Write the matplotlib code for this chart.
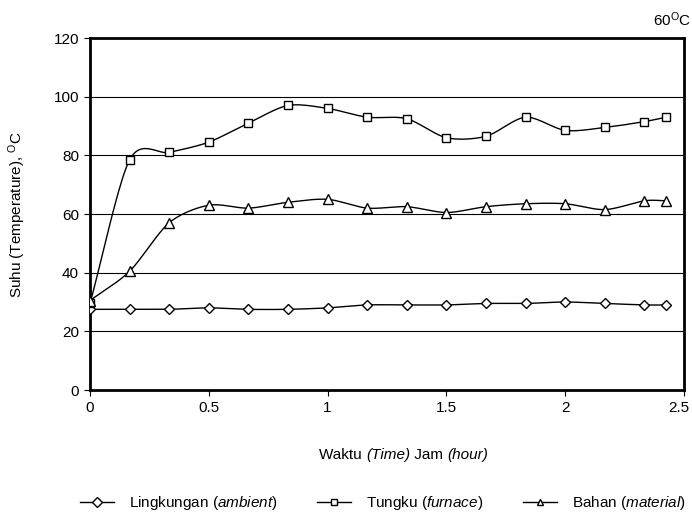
import numpy as np
import matplotlib
matplotlib.use("Agg")
import matplotlib.pyplot as plt
import matplotlib.transforms as mtransforms
from matplotlib.lines import Line2D
from matplotlib.offsetbox import TextArea, HPacker, AnchoredOffsetbox

plt.rcParams['font.family'] = ['Liberation Sans', 'DejaVu Sans']
plt.rcParams['mathtext.fontset'] = 'custom'
plt.rcParams['mathtext.rm'] = 'Liberation Sans'
plt.rcParams['mathtext.it'] = 'Liberation Sans:italic'

time_h = [0, 0.167, 0.333, 0.5, 0.667, 0.833, 1.0, 1.167, 1.333, 1.5, 1.667, 1.833, 2.0, 2.167, 2.333, 2.425]
ambient = [27.5, 27.5, 27.5, 28, 27.5, 27.5, 28, 29, 29, 29, 29.5, 29.5, 30, 29.5, 29, 29]
furnace = [29.5, 78.5, 81, 84.5, 91, 97, 96, 93, 92.5, 86, 86.5, 93, 88.5, 89.5, 91.5, 93]
material = [30.5, 40.5, 57, 63, 62, 64, 65, 62, 62.5, 60.5, 62.5, 63.5, 63.5, 61.5, 64.5, 64.5]

labels = [r'Lingkungan ($\it{ambient}$)', r'Tungku ($\it{furnace}$)', r'Bahan ($\it{material}$)']
markers = ['D', 's', '^']


def smooth(x, y, n=20, k=7.0):
    x = np.asarray(x, float); y = np.asarray(y, float)
    P = np.column_stack([x, y])
    ext = np.vstack([P[0] - (P[1] - P[0]), P, P[-1] + (P[-1] - P[-2])])
    out = []
    t = np.linspace(0, 1, n, endpoint=False)
    for i in range(1, len(ext) - 2):
        p0, p1, p2, p3 = ext[i - 1], ext[i], ext[i + 1], ext[i + 2]
        c1 = p1 + (p2 - p0) / k
        c2 = p2 - (p3 - p1) / k
        b = ((1 - t) ** 3)[:, None] * p1 + (3 * (1 - t) ** 2 * t)[:, None] * c1 + \
            (3 * (1 - t) * t ** 2)[:, None] * c2 + (t ** 3)[:, None] * p2
        out.append(b)
    out.append(P[-1][None, :])
    s = np.vstack(out)
    return s[:, 0], s[:, 1]


fig = plt.figure(figsize=(6.92, 5.16), dpi=100)
ax = fig.add_axes([90 / 692, 1 - 390 / 516, 594 / 692, 352 / 516])

for yv in [20, 40, 60, 80, 100]:
    ax.axhline(yv, color='black', lw=0.8, zorder=1)

series = [ambient, furnace, material]
msizes = [5, 6, 6.5]
for vals, m, ms in zip(series, markers, msizes):
    sx, sy = smooth(time_h, vals)
    ax.plot(sx, sy, color='black', lw=1.0, zorder=2)
    ax.plot(time_h, vals, linestyle='none', marker=m, markersize=ms,
            markerfacecolor='white', markeredgecolor='black', markeredgewidth=1.0, zorder=3)

ax.set_xlim(0, 2.5)
ax.set_ylim(0, 120)
ax.set_xticks([0, 0.5, 1, 1.5, 2, 2.5])
ax.set_xticklabels(['0', '0.5', '1', '1.5', '2', '2.5'])
ax.set_yticks([0, 20, 40, 60, 80, 100, 120])
for sp in ax.spines.values():
    sp.set_linewidth(2)
ax.tick_params(axis='both', labelsize=11, length=4, width=0.8, direction='out', pad=4)

# nudge the last x tick label so it stays inside the figure
last = ax.get_xticklabels()[-1]
last.set_transform(last.get_transform() + mtransforms.ScaledTranslation(-4 / 72, 0, fig.dpi_scale_trans))

# x label with italic parts (including parentheses)
parts = [('Waktu ', 'normal'), ('(Time)', 'italic'), (' Jam ', 'normal'), ('(hour)', 'italic')]
boxes = [TextArea(s, textprops=dict(fontsize=11, style=st, family=['Liberation Sans'])) for s, st in parts]
pack = HPacker(children=boxes, align='baseline', pad=0, sep=0)
ab = AnchoredOffsetbox(loc='center', child=pack, frameon=False,
                       bbox_to_anchor=(404 / 692, 1 - 455 / 516), bbox_transform=fig.transFigure,
                       pad=0, borderpad=0)
fig.add_artist(ab)

ax.set_ylabel(r'Suhu (Temperature), $^{\rm O}$C', fontsize=11, labelpad=18)

fig.text(672 / 692, 1 - 20 / 516, r'60$^{\rm O}$C', fontsize=11, ha='center', va='center')

handles = [Line2D([], [], color='black', lw=1.0, marker=m, markersize=5,
                  markerfacecolor='white', markeredgecolor='black') for m in markers]
fig.legend(handles, labels, loc='center', bbox_to_anchor=(383 / 692, 1 - 503 / 516), ncol=3,
           frameon=False, fontsize=11, handlelength=2.2, columnspacing=2.6, handletextpad=1.0)

fig.savefig('out.png', dpi=100)
